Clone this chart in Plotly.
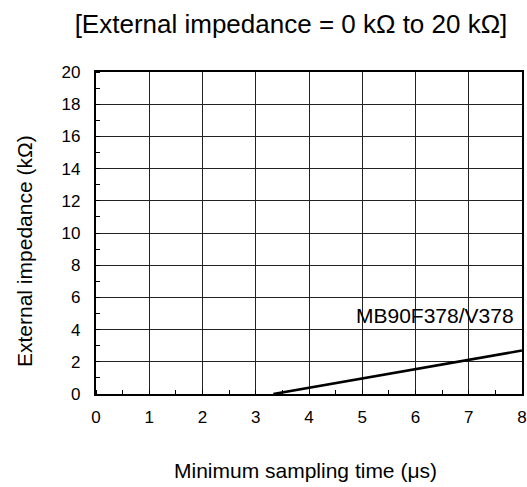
import plotly.graph_objects as go

sampling_time_us = [3.33, 8.0]
impedance_kohm = [0.0, 2.7]
series_label = "MB90F378/V378"
x_ticks = [0, 1, 2, 3, 4, 5, 6, 7, 8]
y_ticks = [0, 2, 4, 6, 8, 10, 12, 14, 16, 18, 20]

FONT = "Liberation Sans, Arial, sans-serif"

W, H = 527, 487
L, R, T, B = 96, 5, 72, 93
pw, ph = W - L - R, H - T - B


def px_to_paper(px, py):
    return (px - L) / pw, (H - py - B) / ph


fig = go.Figure()
fig.add_trace(go.Scatter(x=sampling_time_us, y=impedance_kohm, mode="lines",
                         line=dict(color="black", width=2.6), showlegend=False,
                         hoverinfo="skip"))

fig.add_annotation(x=8, y=4.9, xref="x", yref="y", text=series_label,
                   showarrow=False, xanchor="right", yanchor="middle", xshift=-6,
                   font=dict(family=FONT, size=21, color="black"))

ax, ay = px_to_paper(305, 470)
fig.add_annotation(x=ax, y=ay, xref="paper", yref="paper", text="Minimum sampling time (μs)",
                   showarrow=False, xanchor="center", yanchor="middle",
                   font=dict(family=FONT, size=21, color="black"))
bx, by = px_to_paper(24, 251)
fig.add_annotation(x=bx, y=by, xref="paper", yref="paper", text="External impedance (kΩ)",
                   showarrow=False, xanchor="center", yanchor="middle", textangle=-90,
                   font=dict(family=FONT, size=21, color="black"))

fig.update_layout(
    width=W, height=H,
    margin=dict(l=L, r=R, t=T, b=B, autoexpand=False),
    paper_bgcolor="white", plot_bgcolor="white",
    font=dict(family=FONT, size=17, color="black"),
    title=dict(text="[External impedance = 0 kΩ to 20 kΩ]", x=291 / W, xanchor="center",
               y=1 - 24 / H, yanchor="middle", font=dict(family=FONT, size=26, color="black")),
    xaxis=dict(range=[0, 8], tickvals=x_ticks, ticktext=[str(v) for v in x_ticks],
               showgrid=True, gridcolor="#222", gridwidth=1.3,
               showline=True, linecolor="black", linewidth=2.2, mirror=True,
               ticks="", zeroline=False, ticklabelstandoff=6, automargin=False,
               minor=dict(dtick=0.5, tick0=0, ticks="inside", ticklen=4, tickcolor="black",
                          tickwidth=1.2, showgrid=False)),
    yaxis=dict(range=[0, 20], tickvals=y_ticks, ticktext=[str(v) for v in y_ticks],
               showgrid=True, gridcolor="#222", gridwidth=1.3,
               showline=True, linecolor="black", linewidth=2.2, mirror=True,
               ticks="", zeroline=False, ticklabelstandoff=10, automargin=False,
               minor=dict(dtick=1, tick0=0, ticks="inside", ticklen=4, tickcolor="black",
                          tickwidth=1.2, showgrid=False)),
)

fig.write_html("out.html", config={"displayModeBar": False},
               post_script="document.body.style.margin='0';document.body.style.overflow='hidden';")
